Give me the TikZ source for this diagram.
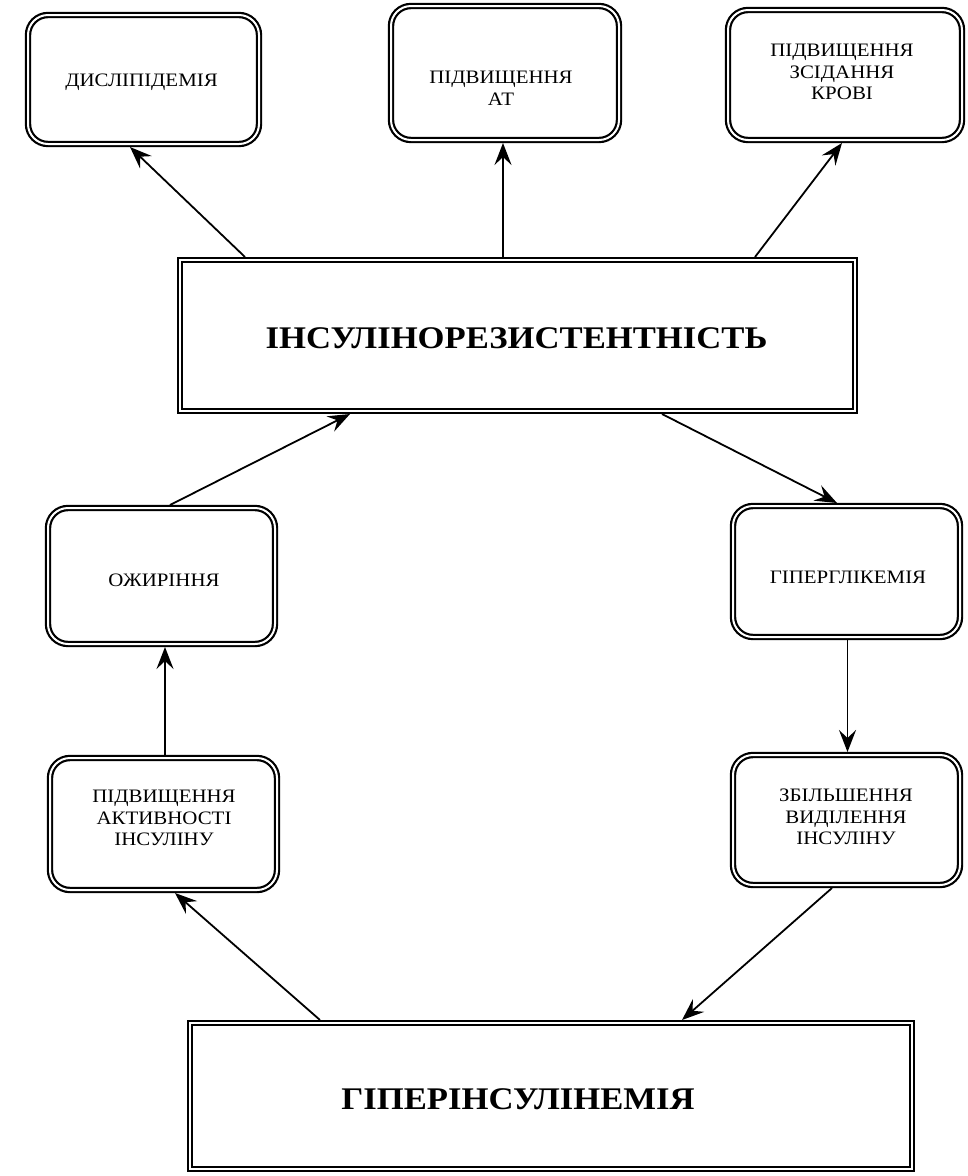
\documentclass[tikz,border=0pt]{standalone}
\usepackage{fontspec}
\setmainfont{Liberation Serif}[FakeStretch=1.1]
\usetikzlibrary{arrows.meta}
\tikzset{
  rbox/.style={draw, double, line width=2.2pt, double distance=2pt, rounded corners=20pt, outer sep=3pt, inner sep=0pt},
  sbox/.style={draw, double, line width=2.2pt, double distance=2pt, outer sep=3pt, inner sep=0pt},
  small/.style={align=center, inner sep=0pt, font=\fontsize{19}{21.7}\selectfont},
  big/.style={inner sep=0pt, font=\fontsize{31.5}{36}\selectfont\bfseries},
  conn/.style={-{Stealth[length=22pt,width=17pt,inset=8pt]}, line width=1.8pt}
}
\begin{document}
\begin{tikzpicture}[x=1pt,y=-1pt]
\useasboundingbox (0,0) rectangle (968,1176);
% boxes
\node[rbox, minimum width=231, minimum height=129] (dys) at (143.5,79.5) {};
\node[rbox, minimum width=228, minimum height=134] (at) at (505,73) {};
\node[rbox, minimum width=234, minimum height=130] (krov) at (845,75) {};
\node[sbox, minimum width=675, minimum height=151] (ir) at (517.5,335.5) {};
\node[rbox, minimum width=227, minimum height=136] (ozh) at (161.5,576) {};
\node[rbox, minimum width=227, minimum height=131] (hg) at (846.5,571.5) {};
\node[rbox, minimum width=227, minimum height=130] (zb) at (846.5,820) {};
\node[rbox, minimum width=227, minimum height=132] (pa) at (163.5,824) {};
\node[sbox, minimum width=722, minimum height=146] (hyp) at (551,1096) {};
% texts
\node[small] (dysT) at (141.5,82) {ДИСЛІПІДЕМІЯ};
\node[small] (atT) at (501,88.5) {ПІДВИЩЕННЯ\\АТ};
\node[small] (krovT) at (842,72) {ПІДВИЩЕННЯ\\ЗСІДАННЯ\\КРОВІ};
\node[big] (irT) at (516.5,338) {ІНСУЛІНОРЕЗИСТЕНТНІСТЬ};
\node[small] (ozhT) at (164,580) {ОЖИРІННЯ};
\node[small] (hgT) at (848,577) {ГІПЕРГЛІКЕМІЯ};
\node[small] (paT) at (164,818) {ПІДВИЩЕННЯ\\АКТИВНОСТІ\\ІНСУЛІНУ};
\node[small] (zbT) at (846,817) {ЗБІЛЬШЕННЯ\\ВИДІЛЕННЯ\\ІНСУЛІНУ};
\node[big] (hypT) at (518,1099) {ГІПЕРІНСУЛІНЕМІЯ};
% connectors
\draw[conn] ([xshift=-272.5pt]ir.north) -- ([xshift=-13.5pt]dys.south);
\draw[conn] ([xshift=-14.5pt]ir.north) -- ([xshift=-2pt]at.south);
\draw[conn] ([xshift=237.5pt]ir.north) -- ([xshift=-3pt]krov.south);
\draw[conn] ([xshift=8.5pt]ozh.north) -- ([xshift=-167.5pt]ir.south);
\draw[conn] ([xshift=144.5pt]ir.south) -- ([xshift=-9.5pt]hg.north);
\draw[conn] ([xshift=1pt]hg.south) -- ([xshift=1pt]zb.north);
\draw[conn] ([xshift=-14.5pt]zb.south) -- ([xshift=131pt]hyp.north);
\draw[conn] ([xshift=-231pt]hyp.north) -- ([xshift=11.5pt]pa.south);
\draw[conn] ([xshift=1.5pt]pa.north) -- ([xshift=3.5pt]ozh.south);
\end{tikzpicture}
\end{document}
